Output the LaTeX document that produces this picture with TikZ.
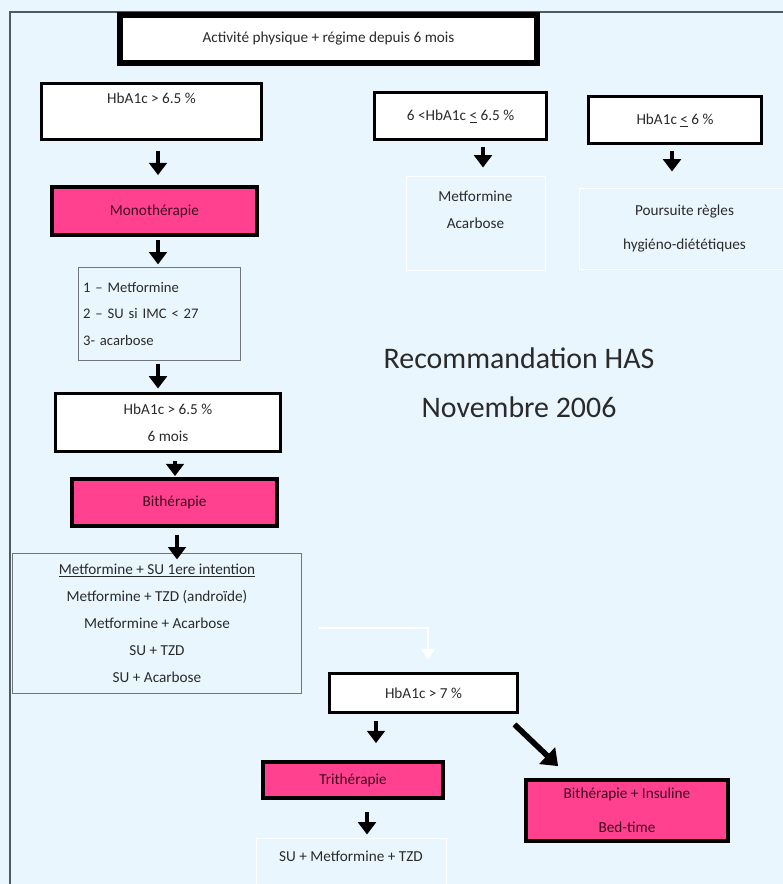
\documentclass[tikz,border=0pt]{standalone}
\usepackage{fontspec}
\setmainfont{Carlito}
\usetikzlibrary{arrows.meta}
\definecolor{bgblue}{HTML}{EAF6FE}
\definecolor{hotpink}{HTML}{FF4190}
\definecolor{txtgray}{HTML}{2A2A2A}
\definecolor{txtpink}{HTML}{3D0A1E}
\definecolor{framegray}{HTML}{505A64}
\definecolor{listgray}{HTML}{70767C}

\begin{document}
\begin{tikzpicture}[x=0.03cm,y=-0.03cm,
		box/.style={draw=black,fill=white,text=txtgray,align=center,inner sep=0pt,font=\fontsize{13}{23}\selectfont},
		startbox/.style={box,line width=5pt},
		testbox/.style={box,line width=2.5pt},
		therapy/.style={box,fill=hotpink,text=txtpink,line width=3.2pt},
		listbox/.style={box,draw=listgray,fill=none,line width=1pt},
		faintbox/.style={box,draw=white,fill=none,line width=.8pt},
		flow/.style={line width=3.6pt,-{Triangle[length=10.5pt,width=15pt]}},
		bigflow/.style={line width=4.8pt,-{Triangle[length=13pt,width=19pt]}},
		ghostflow/.style={white,line width=2.4pt,-{Triangle[length=10pt,width=11pt]}},
		title/.style={align=center,text=txtgray,font=\fontsize{25.5}{41.7}\selectfont}]

		% fond et cadre
		\useasboundingbox (0,0) rectangle (783,884);
		\clip (0,0) rectangle (783,884);
		\fill[bgblue] (0,0) rectangle (783,884);
		\draw[framegray,line width=1.3pt] (10,884)--(10,12)--(783,12);

		\node[startbox,minimum width=12.51cm,minimum height=1.44cm] (start) at (328.5,39){Activité physique + régime depuis 6 mois};

		% branche gauche
		\node[testbox,minimum width=6.6cm,minimum height=1.68cm] (hbA) at (151.5,111.5){HbA1c > 6.5 \%\\ \mbox{}};
		\node[therapy,minimum width=6.15cm,minimum height=1.44cm] (mono) at (154.5,211){Monothérapie};
		\node[listbox,minimum width=4.86cm,minimum height=2.79cm,text width=4.58cm,align=left,font=\fontsize{12.5}{23}\selectfont] (monolist) at (159.5,314){1 – Metformine\\2 – SU si IMC < 27\\3- acarbose};
		\node[testbox,minimum width=6.75cm,minimum height=1.74cm] (hbB) at (168,422.5){HbA1c > 6.5 \%\\6 mois};
		\node[therapy,minimum width=6.15cm,minimum height=1.41cm] (bi) at (174.5,502.5){Bithérapie};
		\node[listbox,minimum width=8.67cm,minimum height=4.2cm] (bilist) at (157,623.5){\underline{Metformine + SU 1ere intention}\\Metformine + TZD (androïde)\\Metformine + Acarbose\\SU + TZD\\SU + Acarbose};

		\draw[flow] ([shift={(6.5,10)}]hbA.south)--([shift={(3.5,-10)}]mono.north);
		\draw[flow] ([shift={(3.5,3)}]mono.south)--([shift={(-1.5,-2.5)}]monolist.north);
		\draw[flow] ([shift={(-1.5,2.5)}]monolist.south)--([shift={(-10,-3.5)}]hbB.north);
		\draw[flow] ([shift={(7,8.5)}]hbB.south)--([shift={(.5,-1)}]bi.north);
		\draw[flow] ([shift={(2.5,7)}]bi.south)--([shift={(20,6.5)}]bilist.north);

		% branches droites
		\node[testbox,minimum width=5.16cm,minimum height=1.41cm] (hbC) at (460.5,116){6 <HbA1c \underline{<} 6.5 \%};
		\node[faintbox,minimum width=4.17cm,minimum height=2.82cm] (metac) at (475.5,223){Metformine\\Acarbose\\ \mbox{}};
		\node[testbox,minimum width=5.19cm,minimum height=1.41cm] (hbD) at (675,120){HbA1c \underline{<} 6 \%};
		\node[faintbox,minimum width=6.33cm,minimum height=2.43cm,font=\fontsize{13}{29}\selectfont] (pours) at (684.5,228.5){Poursuite règles\\hygiéno-diététiques};

		\draw[flow] ([shift={(22.5,6.5)}]hbC.south)--([shift={(7.5,-8)}]metac.north);
		\draw[flow] ([shift={(-3,6.5)}]hbD.south)--([shift={(-12.5,-16)}]pours.north);

		\node[title] (rec) at (519,382.5){Recommandation HAS\\Novembre 2006};

		% echec bitherapie
		\node[testbox,minimum width=5.64cm,minimum height=1.17cm] (hbsept) at (423.5,693){HbA1c > 7 \%};
		\node[therapy,minimum width=5.4cm,minimum height=1.08cm] (tri) at (353,780){Trithérapie};
		\node[faintbox,minimum width=5.7cm,minimum height=1.92cm] (trilist) at (351,870){SU + Metformine + TZD\\ \mbox{}};
		\node[therapy,minimum width=6.06cm,minimum height=1.83cm,font=\fontsize{13}{29}\selectfont] (biins) at (627,810.5){Bithérapie + Insuline\\Bed-time};

		\draw[ghostflow] ([shift={(16.5,4.5)}]bilist.east)-|([shift={(4.5,-11.5)}]hbsept.north);
		\draw[flow] ([shift={(-47.5,7.5)}]hbsept.south)--([shift={(23,-17)}]tri.north);
		\draw[flow] ([shift={(14,12)}]tri.south)--([shift={(16,-3)}]trilist.north);
		\draw[bigflow] ([shift={(-4.5,10.5)}]hbsept.south east)--([shift={(34,-12)}]biins.north west);
	\end{tikzpicture}
\end{document}
